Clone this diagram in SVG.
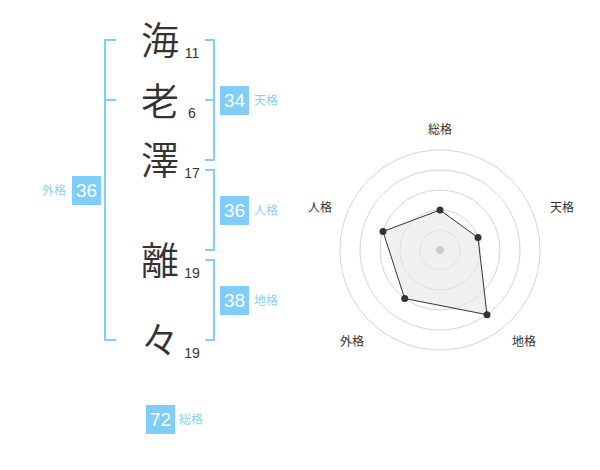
<svg xmlns="http://www.w3.org/2000/svg" width="600" height="470" viewBox="0 0 600 470">
<style>
.ch{font-family:"Noto Sans CJK JP","Noto Sans CJK SC",sans-serif;font-size:38px;font-weight:350;fill:#333;text-anchor:middle}
.num{font-family:"Liberation Sans",Arial,sans-serif;font-size:14px;fill:#333;text-anchor:middle}
.br{fill:none;stroke:#84cdf6;stroke-width:2}
.box{fill:#80cdf9}
.bt{font-family:"Liberation Sans",Arial,sans-serif;font-size:19px;fill:#fff;text-anchor:middle}
.lb{font-family:"Noto Sans CJK JP","Noto Sans CJK SC",sans-serif;font-size:12px;fill:#8ccff5}
.ring{fill:none;stroke:#d4d4d4;stroke-width:1}
.rl{font-family:"Noto Sans CJK JP","Noto Sans CJK SC",sans-serif;font-size:12px;fill:#333;text-anchor:middle}
.pt{fill:#333}
</style>
<g id="chars">
<g id="c1"><text class="ch" x="160" y="54">海</text><text class="num" x="192" y="57.5">11</text></g>
<g id="c2"><text class="ch" x="160" y="115">老</text><text class="num" x="192" y="117.5">6</text></g>
<g id="c3"><text class="ch" x="160" y="173.5">澤</text><text class="num" x="192" y="177.5">17</text></g>
<g id="c4"><text class="ch" x="160" y="273.5">離</text><text class="num" x="192" y="277.5">19</text></g>
<g id="c5"><text class="ch" x="160" y="354">々</text><text class="num" x="192" y="358">19</text></g>
</g>
<g id="connectors">
<path class="br" d="M116,40 H105 V340 H116 M105,100 H116"/>
<path class="br" d="M205,40 H214 V160 H205 M214,100 H205"/>
<path class="br" d="M205,170 H214 V250 H205"/>
<path class="br" d="M205,260 H214 V340 H205"/>
</g>
<g id="tenkaku"><rect class="box" x="220" y="86" width="29" height="29"/><text class="bt" x="234.5" y="107">34</text><text class="lb" x="254" y="105">天格</text></g>
<g id="jinkaku"><rect class="box" x="220" y="196" width="29" height="29"/><text class="bt" x="234.5" y="217">36</text><text class="lb" x="254" y="215">人格</text></g>
<g id="chikaku"><rect class="box" x="220" y="286" width="29" height="29"/><text class="bt" x="234.5" y="307">38</text><text class="lb" x="254" y="305">地格</text></g>
<g id="gaikaku"><rect class="box" x="72" y="176" width="29" height="29"/><text class="bt" x="86.5" y="197">36</text><text class="lb" x="66" y="195" text-anchor="end">外格</text></g>
<g id="soukaku"><rect class="box" x="146" y="405" width="29" height="29"/><text class="bt" x="160.5" y="426">72</text><text class="lb" x="179" y="424">総格</text></g>
<g id="radar">
<circle class="ring" cx="440" cy="250" r="20"/>
<circle class="ring" cx="440" cy="250" r="40"/>
<circle class="ring" cx="440" cy="250" r="60"/>
<circle class="ring" cx="440" cy="250" r="80"/>
<circle class="ring" cx="440" cy="250" r="100"/>
<polygon points="440,210 478,237.6 487,314.7 404.7,298.5 383,231.5" fill="#e6e6e6" fill-opacity="0.6" stroke="#333" stroke-width="1"/>
<circle cx="440" cy="250" r="4" fill="#cccccc"/>
<circle class="pt" cx="440" cy="210" r="3.5"/>
<circle class="pt" cx="478" cy="237.6" r="3.5"/>
<circle class="pt" cx="487" cy="314.7" r="3.5"/>
<circle class="pt" cx="404.7" cy="298.5" r="3.5"/>
<circle class="pt" cx="383" cy="231.5" r="3.5"/>
<text class="rl" x="440" y="134">総格</text>
<text class="rl" x="562" y="212">天格</text>
<text class="rl" x="524" y="346">地格</text>
<text class="rl" x="352" y="346">外格</text>
<text class="rl" x="320" y="212">人格</text>
</g>
</svg>
